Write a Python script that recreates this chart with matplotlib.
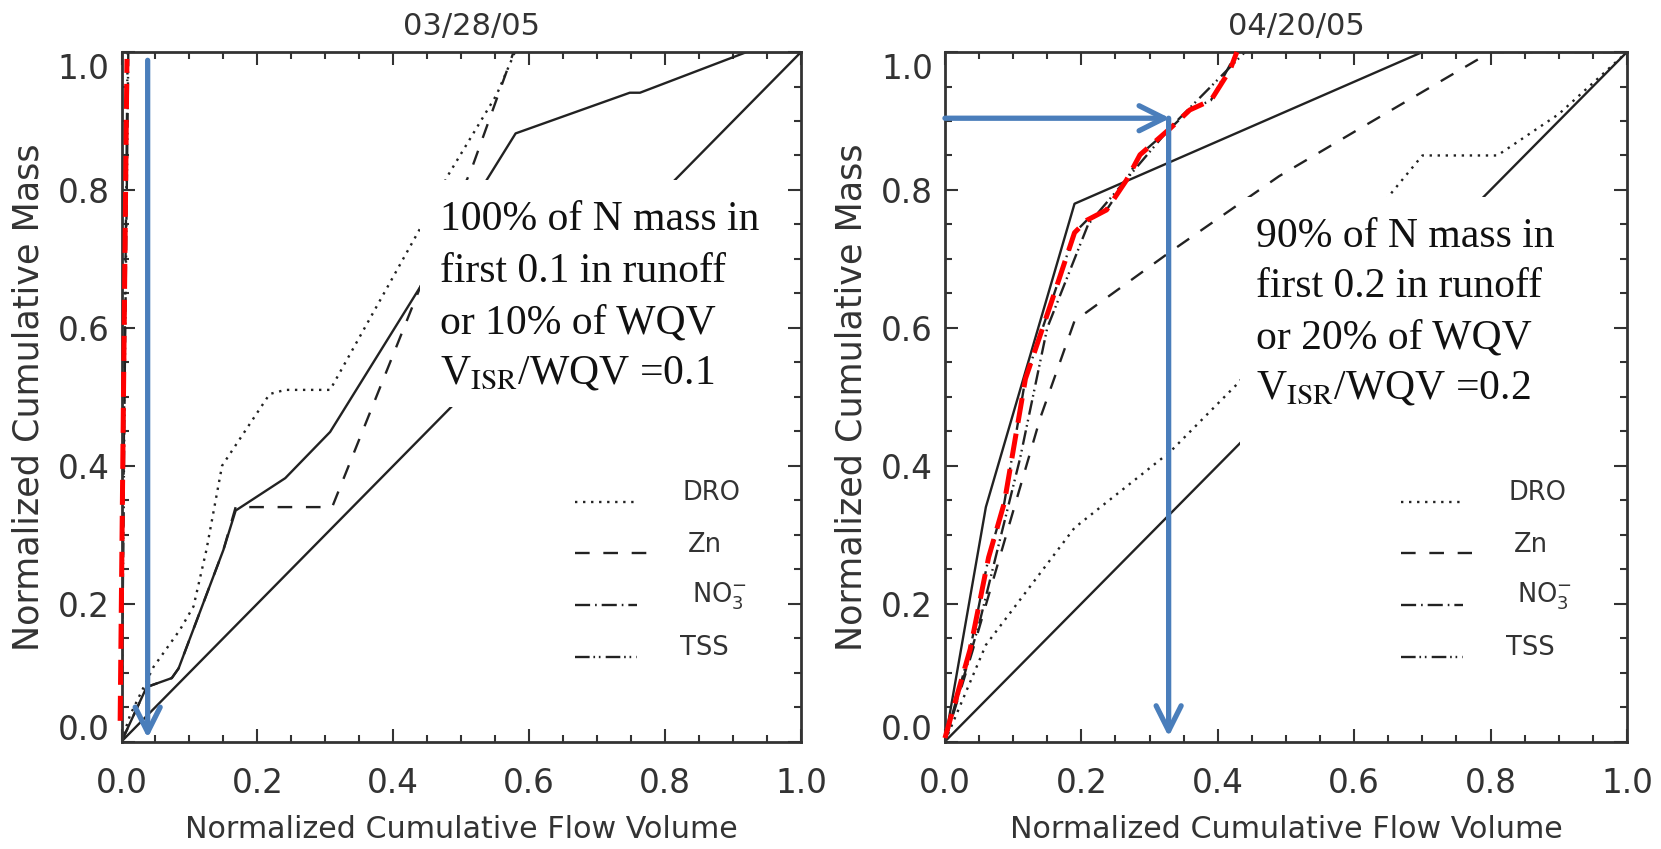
import matplotlib
matplotlib.use("Agg")
import matplotlib.pyplot as plt
from matplotlib.patches import Rectangle
from matplotlib.transforms import ScaledTranslation
from matplotlib.ticker import MultipleLocator

plt.rcParams["font.family"] = ["DejaVu Sans"]

# ---- data ----
titles = ["03/28/05", "04/20/05"]
legend_names = ["DRO", "Zn", r"NO$_3^{-}$", "TSS"]

one_to_one_x = [0.0, 1.0]
one_to_one_y = [0.0, 1.0]

# panel 1 : 03/28/05
dro_x1 = [0, 0.0125, 0.047, 0.086, 0.106, 0.125, 0.148, 0.218, 0.241, 0.307, 0.44, 0.481, 0.552, 0.579]
dro_y1 = [0, 0.038, 0.108, 0.162, 0.196, 0.278, 0.40, 0.504, 0.51, 0.51, 0.745, 0.822, 0.938, 1.0]
zn_x1 = [0, 0.037, 0.074, 0.084, 0.15, 0.168, 0.31, 0.44, 0.515, 0.577]
zn_y1 = [0, 0.079, 0.092, 0.106, 0.278, 0.34, 0.34, 0.66, 0.83, 1.0]
no3_x1 = [0, 0.004, 0.009]
no3_y1 = [0, 0.5, 1.0]
tss_x1 = [0, 0.005, 0.010]
tss_y1 = [0, 0.55, 1.0]
solid_x1 = [0, 0.037, 0.074, 0.084, 0.15, 0.168, 0.241, 0.307, 0.58, 0.748, 0.763, 0.92, 1.0]
solid_y1 = [0, 0.079, 0.092, 0.106, 0.278, 0.335, 0.382, 0.449, 0.882, 0.941, 0.941, 1.0, 1.0]
red_x1 = [-0.002, 0.008]
red_y1 = [0.03, 0.99]

# panel 2 : 04/20/05
dro_x2 = [0, 0.06, 0.19, 0.33, 0.43, 0.65, 0.70, 0.81, 0.9, 1.0]
dro_y2 = [0, 0.14, 0.31, 0.42, 0.52, 0.79, 0.85, 0.85, 0.91, 1.0]
zn_x2 = [0, 0.04, 0.14, 0.19, 0.33, 0.49, 0.61, 0.80, 1.0]
zn_y2 = [0, 0.13, 0.47, 0.61, 0.71, 0.82, 0.89, 1.0, 1.0]
no3_x2 = [0, 0.037, 0.064, 0.087, 0.118, 0.157, 0.19, 0.208, 0.237, 0.266, 0.286, 0.33, 0.359, 0.39, 0.428]
no3_y2 = [0, 0.134, 0.267, 0.346, 0.526, 0.64, 0.738, 0.756, 0.771, 0.814, 0.851, 0.889, 0.916, 0.93, 1.0]
tss_x2 = [0, 0.05, 0.11, 0.15, 0.21, 0.33, 0.44]
tss_y2 = [0, 0.17, 0.41, 0.60, 0.75, 0.89, 1.0]
solid_x2 = [0, 0.06, 0.19, 0.70, 1.0]
solid_y2 = [0, 0.34, 0.78, 1.0, 1.0]
red_x2 = [0, 0.037, 0.064, 0.087, 0.118, 0.157, 0.19, 0.208, 0.237, 0.266, 0.286, 0.33, 0.359, 0.39, 0.418, 0.428]
red_y2 = [0.005, 0.134, 0.267, 0.346, 0.526, 0.64, 0.738, 0.756, 0.771, 0.814, 0.851, 0.889, 0.916, 0.93, 0.974, 1.0]

# blue arrows (start, end) in data units
arrows1 = [((0.0385, 0.988), (0.0385, 0.005))]
arrows2 = [((0.0, 0.904), (0.330, 0.904)), ((0.328, 0.904), (0.328, 0.007))]

notes1 = ["100% of N mass in", "first 0.1 in runoff", "or 10% of WQV", r"V$_{\mathrm{ISR}}$/WQV =0.1"]
notes2 = ["90% of N mass in", "first 0.2 in runoff", "or 20% of WQV", r"V$_{\mathrm{ISR}}$/WQV =0.2"]

# ---- styles ----
ink = "#222222"
gray = "#333333"
blue = "#4a7ebb"
styles = [(0, (1, 2.4)), (0, (6.2, 5.8)), (0, (6.4, 2.1, 0.7, 2.1)), (0, (6.2, 1.6, 0.7, 1.6, 0.7, 2.2))]
lw = 1.7

fig = plt.figure(figsize=(16.61, 8.49), dpi=100)
ax1 = fig.add_axes([0.07315, 0.1266, 0.4091, 0.8121])
ax2 = fig.add_axes([0.5689, 0.1266, 0.4106, 0.8121])

panels = [
    (ax1, dro_x1, dro_y1, zn_x1, zn_y1, no3_x1, no3_y1, tss_x1, tss_y1, solid_x1, solid_y1,
     red_x1, red_y1, arrows1, notes1, (0.439, 0.485, 0.537, 0.329), 0.469, [0.742, 0.667, 0.592, 0.519]),
    (ax2, dro_x2, dro_y2, zn_x2, zn_y2, no3_x2, no3_y2, tss_x2, tss_y2, solid_x2, solid_y2,
     red_x2, red_y2, arrows2, notes2, (0.4326, 0.423, 0.52, 0.367), 0.456, [0.7176, 0.645, 0.570, 0.498]),
]

for i, (ax, dx, dy, zx, zy, nx, ny, tx, ty, sx, sy, rx, ry, arrs, notes, box, tx0, tys) in enumerate(panels):
    ax.plot(one_to_one_x, one_to_one_y, color=ink, lw=lw, solid_capstyle="butt")
    ax.plot(sx, sy, color=ink, lw=lw)
    ax.plot(dx, dy, color=ink, lw=lw, linestyle=styles[0])
    ax.plot(zx, zy, color=ink, lw=lw, linestyle=styles[1])
    ax.plot(nx, ny, color=ink, lw=lw, linestyle=styles[2])
    ax.plot(tx, ty, color=ink, lw=lw, linestyle=styles[3])
    # red highlight of the nitrate curve
    ax.plot(rx, ry, color="#ff0000", lw=3.6, linestyle=(0, (5, 2.2)), zorder=4, clip_on=False)

    ax.set_xlim(0, 1)
    ax.set_ylim(0, 1)
    ax.xaxis.set_major_locator(MultipleLocator(0.2))
    ax.yaxis.set_major_locator(MultipleLocator(0.2))
    ax.xaxis.set_minor_locator(MultipleLocator(0.05))
    ax.yaxis.set_minor_locator(MultipleLocator(0.05))
    ax.xaxis.set_major_formatter(plt.FormatStrFormatter("%.1f"))
    ax.yaxis.set_major_formatter(plt.FormatStrFormatter("%.1f"))
    ax.tick_params(which="both", direction="in", top=True, right=True, color=gray, width=1.5)
    ax.tick_params(which="major", length=9.5)
    ax.tick_params(which="minor", length=4.8)
    ax.tick_params(axis="x", which="major", pad=18.5, labelsize=23.5, labelcolor=gray)
    ax.tick_params(axis="y", which="major", pad=8.6, labelsize=23.5, labelcolor=gray)
    for sp in ax.spines.values():
        sp.set_linewidth(2.0)
        sp.set_color(gray)

    # nudge end labels inward like the original
    yt = ax.yaxis.get_major_ticks()
    for t, loc in zip(yt, ax.get_yticks()):
        if abs(loc - 1.0) < 1e-6:
            t.label1.set_transform(t.label1.get_transform() + ScaledTranslation(0, -0.14, fig.dpi_scale_trans))
        elif abs(loc) < 1e-6:
            t.label1.set_transform(t.label1.get_transform() + ScaledTranslation(0, 0.15, fig.dpi_scale_trans))

    ax.set_xlabel("Normalized Cumulative Flow Volume", fontsize=21.7, color=gray)
    ax.set_ylabel("Normalized Cumulative Mass", fontsize=25.2, color=gray)
    ax.xaxis.set_label_coords(0.5, -0.1066)
    ax.yaxis.set_label_coords(-0.112, 0.5)

    ax.annotate(titles[i], xy=(0.515, 1.0), xycoords="axes fraction", xytext=(0, 12.6),
                textcoords="offset points", ha="center", va="baseline", fontsize=22, color=gray)

    # legend drawn as in the original (line sample + label)
    leg_y = [0.347, 0.273, 0.198, 0.123]
    lab_x = [0.826, 0.834, 0.839, 0.822]
    lab_dy = [0.014, 0.012, 0.012, 0.013]
    seg_end = [0.760, 0.773, 0.759, 0.759]
    for k in range(4):
        ax.plot([0.668, seg_end[k]], [leg_y[k], leg_y[k]], color=ink, lw=lw,
                linestyle=styles[k], transform=ax.transAxes)
        ax.text(lab_x[k], leg_y[k] + lab_dy[k], legend_names[k], transform=ax.transAxes,
                fontsize=18.5, color=gray, ha="left", va="center")

    # white text box
    ax.add_patch(Rectangle(box[:2], box[2], box[3], transform=ax.transAxes,
                           facecolor="white", edgecolor="none", zorder=5))
    for line, yb in zip(notes, tys):
        ax.text(tx0, yb, line, transform=ax.transAxes, fontsize=30, family="Liberation Serif",
                math_fontfamily="stix", color="#111111", ha="left", va="baseline", zorder=6)

    for start, end in arrs:
        ax.annotate("", xy=end, xytext=start, xycoords="data",
                    arrowprops=dict(arrowstyle="->", color=blue, lw=3.8, mutation_scale=45,
                                    shrinkA=0, shrinkB=0), zorder=7, annotation_clip=False)

fig.savefig("out.png", dpi=100)
